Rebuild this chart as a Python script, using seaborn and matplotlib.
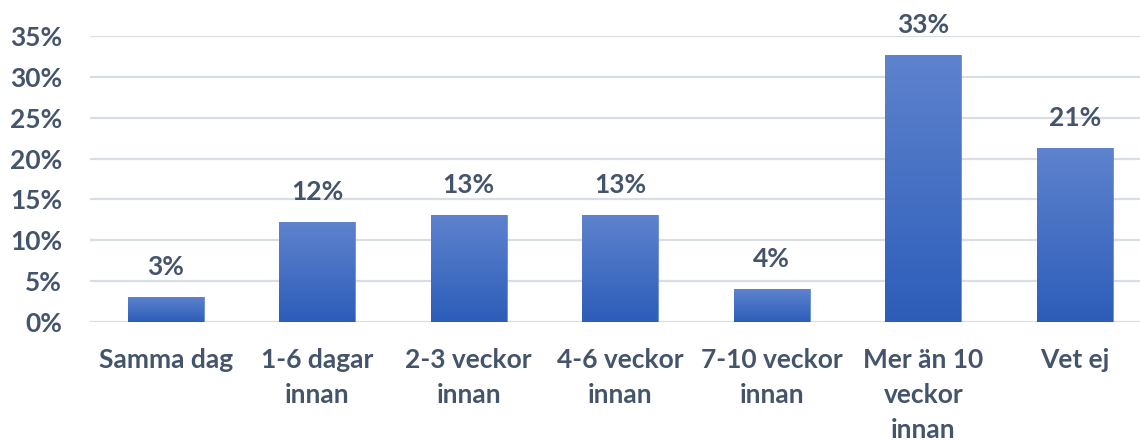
import numpy as np
import pandas as pd
import matplotlib
matplotlib.use("Agg")
import matplotlib.pyplot as plt
import seaborn as sns
from matplotlib.colors import LinearSegmentedColormap

categories = ["Samma dag", "1-6 dagar\ninnan", "2-3 veckor\ninnan", "4-6 veckor\ninnan",
              "7-10 veckor\ninnan", "Mer än 10\nveckor\ninnan", "Vet ej"]
values = [3.1, 12.2, 13.1, 13.1, 4.0, 32.7, 21.3]
labels = ["3%", "12%", "13%", "13%", "4%", "33%", "21%"]
yticks = [0, 5, 10, 15, 20, 25, 30, 35]
ytick_labels = ["0%", "5%", "10%", "15%", "20%", "25%", "30%", "35%"]

sns.set_theme(style="white")
plt.rcParams["font.family"] = ["Lato", "DejaVu Sans"]
text_color = "#44546A"
fs = 19

df = pd.DataFrame({"cat": categories, "val": values})

fig = plt.figure(figsize=(11.4, 4.43), dpi=100)
ax = fig.add_axes([90 / 1140, (443 - 322) / 443, (1140 - 90) / 1140, (322 - 36) / 443])

sns.barplot(data=df, x="cat", y="val", color="#3F6CC6", width=0.5, ax=ax, saturation=1)

# gradient fill on each bar
cmap = LinearSegmentedColormap.from_list("g", ["#2D5DB9", "#5E83CE"])
grad = np.linspace(0, 1, 256).reshape(-1, 1)
for p in ax.patches:
    x0, y0 = p.get_x(), p.get_y()
    w, h = p.get_width(), p.get_height()
    im = ax.imshow(grad, cmap=cmap, origin="lower", aspect="auto",
                   extent=[x0, x0 + w, y0, y0 + h], zorder=p.get_zorder() + 0.1)
    im.set_clip_path(p)
    p.set_edgecolor("#6C8FD3")
    p.set_linewidth(0.6)
ax.set_xlim(-0.5, 6.43)
ax.set_ylim(0, 35)

# bar labels
for i, (v, lab) in enumerate(zip(values, labels)):
    ax.annotate(lab, xy=(i, v), xytext=(0, 13), textcoords="offset points",
                ha="center", va="bottom", fontsize=fs, fontweight="bold",
                color=text_color, clip_on=False, annotation_clip=False)

ax.set_yticks(yticks)
ax.set_yticklabels(ytick_labels, fontweight="bold")
ax.set_xticks(range(len(categories)))
ax.set_xticklabels(categories, fontweight="bold", linespacing=1.55)
ax.yaxis.grid(True, color="#D9DEE5", linewidth=1.6)
ax.set_axisbelow(True)
for s in ax.spines.values():
    s.set_visible(False)
ax.tick_params(axis="y", length=0, pad=20, labelsize=fs, labelcolor=text_color)
ax.tick_params(axis="x", length=0, pad=19, labelsize=fs, labelcolor=text_color)
ax.set_xlabel("")
ax.set_ylabel("")

fig.savefig("out.png", dpi=100)
